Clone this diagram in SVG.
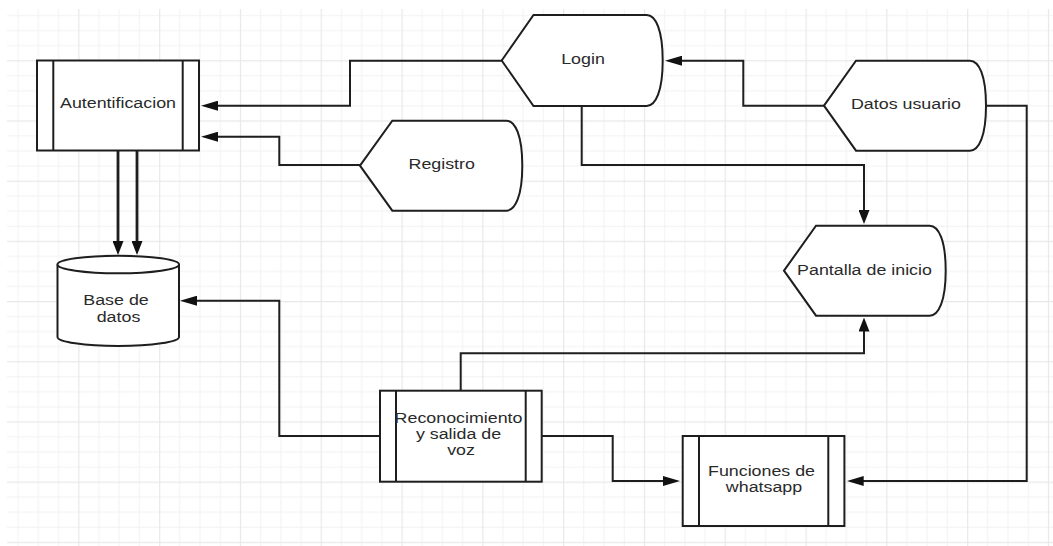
<svg xmlns="http://www.w3.org/2000/svg" width="1053" height="546" viewBox="0 0 1053 546">
  <style>
    .shape { fill: #ffffff; stroke: #1e1e1e; stroke-width: 2; }
    .bar { fill: none; stroke: #1e1e1e; stroke-width: 2; }
    .link { fill: none; stroke: #1e1e1e; stroke-width: 2; }
    .link.heavy { stroke-width: 2.8; }
    .label { font-family: "Liberation Sans", Arial, sans-serif; font-size: 15px; fill: #2a2a2a; text-anchor: middle; }
  </style>
  <defs>
    <!-- background grid: minor cells 20.2 x 15.05, major line every 4 cells -->
    <pattern id="grid" patternUnits="userSpaceOnUse" x="-2.5" y="0" width="80.8" height="60.2">
      <g fill="#f2f2f2">
        <rect x="20.2" y="0" width="1" height="60.2"/>
        <rect x="40.4" y="0" width="1" height="60.2"/>
        <rect x="60.6" y="0" width="1" height="60.2"/>
        <rect x="0" y="15.05" width="80.8" height="1"/>
        <rect x="0" y="30.1" width="80.8" height="1"/>
        <rect x="0" y="45.15" width="80.8" height="1"/>
      </g>
      <g fill="#e8e8e8">
        <rect x="0" y="0" width="1.2" height="60.2"/>
        <rect x="0" y="0" width="80.8" height="1.2"/>
      </g>
    </pattern>
    <marker id="arrowH" markerUnits="userSpaceOnUse" markerWidth="17" markerHeight="10" refX="11" refY="5" orient="auto">
      <path d="M0,0 L17,5 L0,10 Z" fill="#111111"/>
    </marker>
    <marker id="arrowV" markerUnits="userSpaceOnUse" markerWidth="14" markerHeight="11" refX="8" refY="5.5" orient="auto">
      <path d="M0,0 L14,5.5 L0,11 Z" fill="#111111"/>
    </marker>
  </defs>

  <rect x="0" y="0" width="1053" height="546" fill="#ffffff"/>
  <rect x="7" y="9" width="1046" height="537" fill="url(#grid)"/>

  <!-- connectors -->
  <g id="connectors">
    <path class="link" d="M501.7,60.7 H350 V105.7 H207" marker-end="url(#arrowH)"/>
    <path class="link" d="M360,165 H279.3 V136.7 H207" marker-end="url(#arrowH)"/>
    <path class="link heavy" d="M118,150.7 V249" marker-end="url(#arrowV)"/>
    <path class="link heavy" d="M137,150.7 V249" marker-end="url(#arrowV)"/>
    <path class="link" d="M824,105.7 H743.3 V60.7 H671" marker-end="url(#arrowH)"/>
    <path class="link" d="M581.7,105.7 V165 H864 V218" marker-end="url(#arrowV)"/>
    <path class="link" d="M986,105.7 H1026.7 V481 H852.7" marker-end="url(#arrowH)"/>
    <path class="link" d="M460.7,390.7 V353.3 H864 V323.5" marker-end="url(#arrowV)"/>
    <path class="link" d="M380,436 H279.3 V300.7 H186" marker-end="url(#arrowH)"/>
    <path class="link" d="M541.7,436 H612.7 V481 H674" marker-end="url(#arrowH)"/>
  </g>

  <!-- processes -->
  <g id="autentificacion">
    <rect class="shape" x="37" y="60.5" width="162" height="90"/>
    <path class="bar" d="M53.3,60.5 V150.5 M182.7,60.5 V150.5"/>
    <text class="label" transform="translate(118 108.3) scale(1.19 1)">Autentificacion</text>
  </g>

  <g id="reconocimiento">
    <rect class="shape" x="380" y="390.7" width="161.7" height="91"/>
    <path class="bar" d="M396,390.7 V481.7 M525.7,390.7 V481.7"/>
    <text class="label" transform="translate(461 422.7) scale(1.19 1)">
      <tspan x="0" dy="0">Reconocimiento</tspan>
      <tspan x="0" dy="16.3">y salida de</tspan>
      <tspan x="0" dy="16.3">voz</tspan>
    </text>
  </g>

  <g id="funciones-whatsapp">
    <rect class="shape" x="682.7" y="436" width="161.7" height="90"/>
    <path class="bar" d="M699,436 V526 M828.3,436 V526"/>
    <text class="label" transform="translate(764 476.3) scale(1.19 1)">
      <tspan x="0" dy="0">Funciones de</tspan>
      <tspan x="0" dy="16">whatsapp</tspan>
    </text>
  </g>

  <!-- displays -->
  <g id="login">
    <path class="shape" d="M501.7,60.5 L533.5,15 L646.7,15 C655.7,15 662.7,30 662.7,60.5 C662.7,91 655.7,106 646.7,106 L533.5,106 Z"/>
    <text class="label" transform="translate(583 64) scale(1.19 1)">Login</text>
  </g>

  <g id="registro">
    <path class="shape" d="M360,165.7 L392.3,120.7 L506.3,120.7 C515.3,120.7 522.3,135.7 522.3,165.7 C522.3,195.7 515.3,210.7 506.3,210.7 L392.3,210.7 Z"/>
    <text class="label" transform="translate(441.7 169) scale(1.19 1)">Registro</text>
  </g>

  <g id="datos-usuario">
    <path class="shape" d="M824,105.7 L856,60.7 L970,60.7 C979,60.7 986,75.7 986,105.7 C986,135.7 979,150.7 970,150.7 L856,150.7 Z"/>
    <text class="label" transform="translate(906 109) scale(1.19 1)">Datos usuario</text>
  </g>

  <g id="pantalla-inicio">
    <path class="shape" d="M784,270.7 L816,225.7 L929.7,225.7 C938.7,225.7 945.7,240.7 945.7,270.7 C945.7,300.7 938.7,315.7 929.7,315.7 L816,315.7 Z"/>
    <text class="label" transform="translate(864.5 274.7) scale(1.19 1)">Pantalla de inicio</text>
  </g>

  <!-- data store -->
  <g id="base-datos">
    <path class="shape" d="M57.5,264.5 V337 A60.75,9 0 0 0 179,337 V264.5"/>
    <ellipse class="shape" cx="118.25" cy="264.5" rx="60.75" ry="8.8"/>
    <text class="label" transform="translate(118.5 305) scale(1.19 1)">
      <tspan x="0" dy="0">Base de</tspan>
      <tspan x="0" dy="16.7">datos</tspan>
    </text>
  </g>
</svg>
